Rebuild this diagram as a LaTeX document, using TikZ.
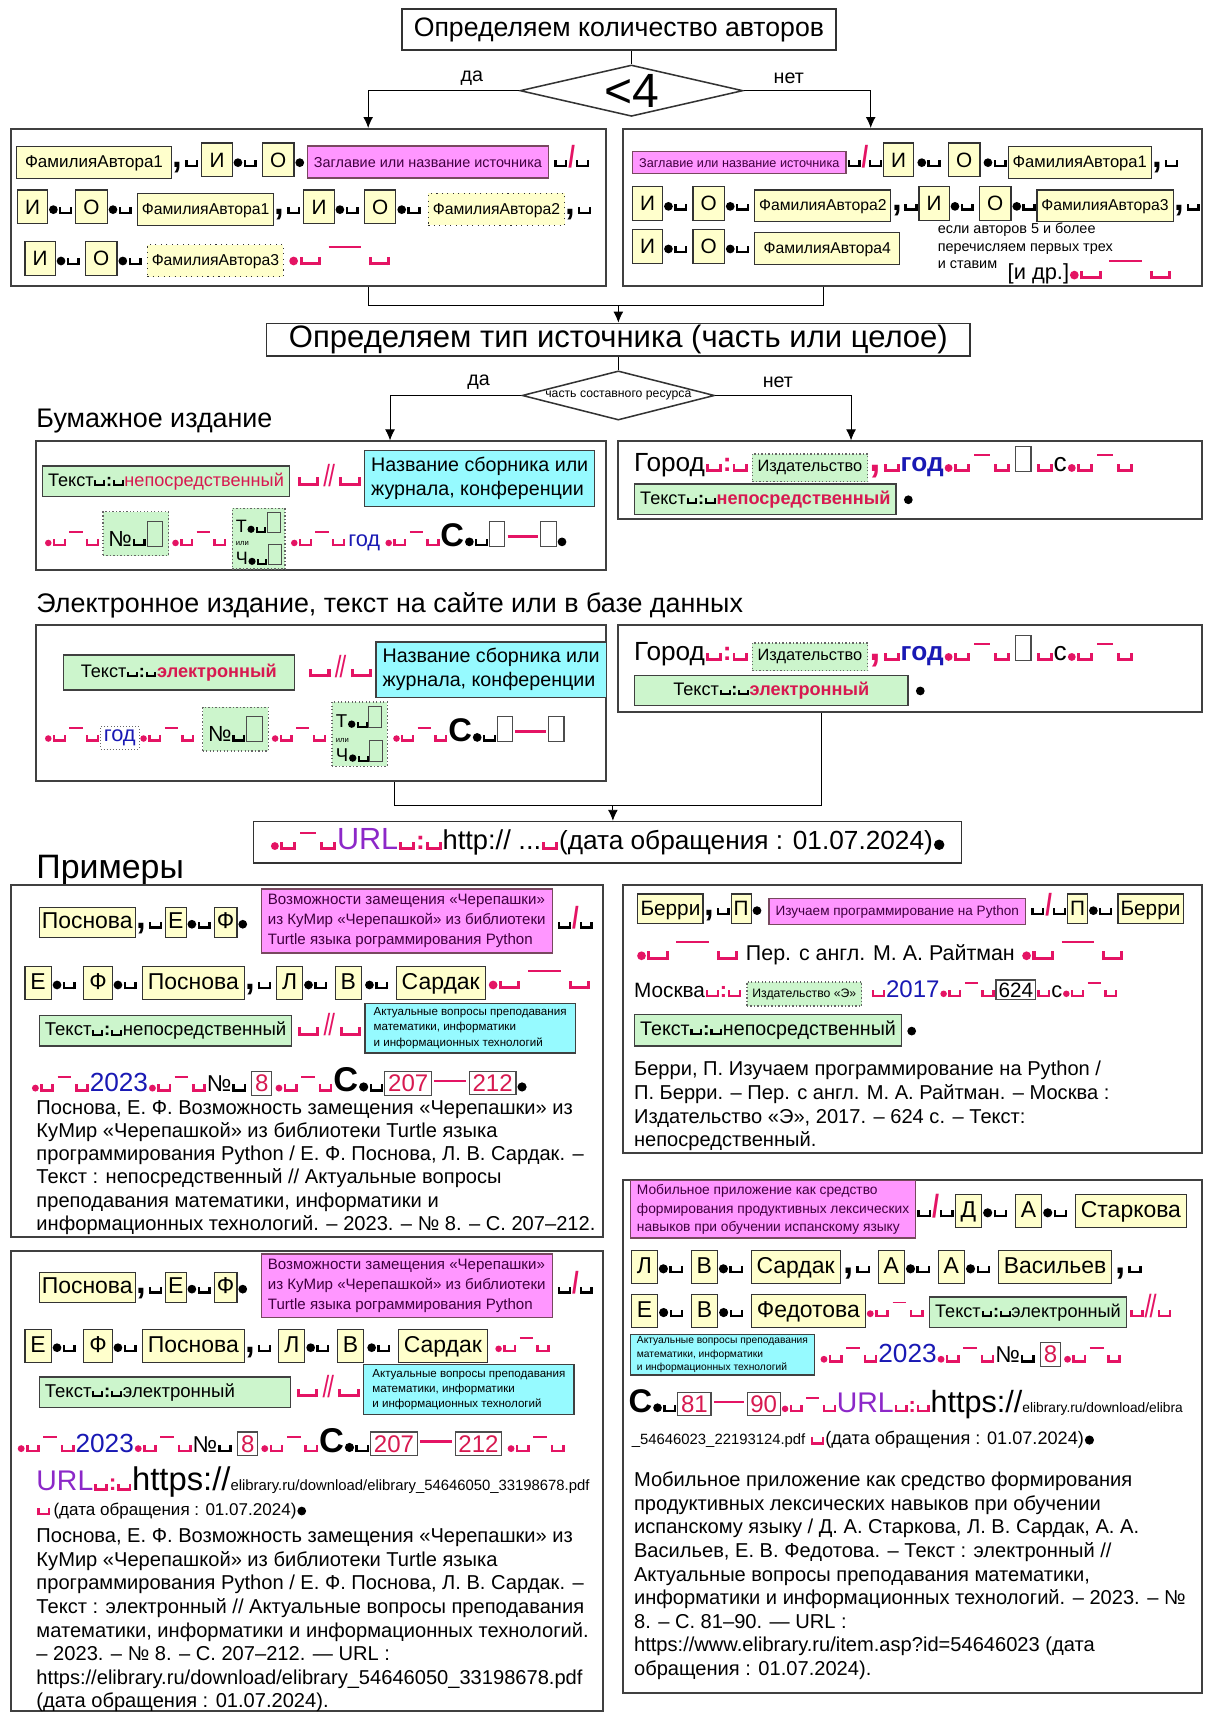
\documentclass[tikz,border=0pt]{standalone}
\usepackage{fontspec}
\setmainfont{Liberation Sans}
\usepackage{graphicx}
\usetikzlibrary{positioning,fit,calc,arrows.meta,shapes.geometric}

\definecolor{pk}{RGB}{228,20,100}
\definecolor{ylw}{RGB}{255,255,204}
\definecolor{mgn}{RGB}{255,150,255}
\definecolor{cyn}{RGB}{150,250,255}
\definecolor{grn}{RGB}{204,245,204}
\definecolor{bl}{RGB}{25,25,180}
\definecolor{urlc}{RGB}{140,40,200}
\definecolor{rd}{RGB}{215,25,80}

\newcommand\sz[2]{\fontsize{#1}{#2}\selectfont}
% template marks
\newcommand\spc[1][black]{{\color{#1}\kern.04em\rule{.11em}{.32em}\rule{.38em}{.11em}\rule{.11em}{.32em}\kern.04em}}
\newcommand\bspc[1][black]{{\color{#1}\kern.05em\rule{.14em}{.4em}\rule{.7em}{.14em}\rule{.14em}{.4em}\kern.05em}}
\newcommand\dt[1][black]{\kern.04em\tikz[baseline=0pt]\fill[#1] (0,.2em) circle (.2em);\kern.02em}
\newcommand\sdt{\kern.04em\tikz[baseline=0pt]\fill[pk] (0,.15em) circle (.15em);\kern.02em}
\newcommand\cm[1][black]{{\color{#1}\kern.03em\scalebox{1.6}{\bfseries,}\kern.08em}}
\newcommand\dsh{{\color{pk}\kern.12em\raisebox{.6em}{\rule{.6em}{.08em}}\kern.12em}}
\newcommand\sep{\sdt\spc[pk]\dsh\spc[pk]}
\newcommand\wsep{\dt[pk]\bspc[pk]{\color{pk}\kern.3em\raisebox{.8em}{\rule{1.5em}{.09em}}\kern.3em}\bspc[pk]}
\newcommand\sla{{\color{pk}\scalebox{1.1}[1.4]{\bfseries/}}}
\newcommand\dsl{{\color{pk}\scalebox{1.1}[1.4]{/\kern-.08em/}}}
\newcommand\dsep{\bspc[pk]\kern.15em\dsl\kern.15em\bspc[pk]}
\newcommand\cln[1][black]{\spc[#1]{\color{#1}\bfseries:}\spc[#1]}
\newcommand\eb{\tikz[baseline=0pt]\draw[black!70,line width=.05em] (0,0) rectangle (.7em,1.15em);}
\newcommand\pbar{{\color{pk}\kern.1em\raisebox{.4em}{\rule{1.4em}{.12em}}\kern.1em}}
\newcommand\pgs[2]{\scalebox{1.5}{\bfseries С}\dt\spc#1\pbar#2}
\newcommand\bx[2]{\tikz[baseline]\node[#1,anchor=base]{#2};}
\newcommand\mb[2]{\tikz[baseline={([yshift=-.35em]current bounding box.center)}]\node[#1]{#2};}

\tikzset{
  frame/.style={draw=black!75, line width=0.9pt, inner sep=0pt},
  ttl/.style={draw=black!80, line width=0.7pt, inner sep=0pt, font=\sz{12.2}{14}},
  dia/.style={draw=black!80, line width=0.7pt, diamond, inner sep=0pt},
  arr/.style={-{Latex[length=5pt,width=4.5pt]}},
  lbl/.style={font=\sz{9}{10}},
  hd/.style={anchor=west, inner sep=0pt, font=\sz{12.3}{14}},
  row/.style={anchor=west, inner sep=0pt, font=\sz{10}{12}},
  txt/.style={anchor=north west, inner sep=0pt, align=left, font=\sz{9.2}{10.8}},
  ybox/.style={draw=black!80, fill=ylw, line width=.5pt, inner xsep=2pt, inner ysep=3pt},
  fam/.style={ybox, font=\sz{7.2}{9}, text height=6pt, text depth=1.6pt, inner ysep=3.5pt},
  famd/.style={fam, dotted},
  ini/.style={ybox, font=\sz{9.5}{11}, text height=7pt, text depth=.5pt, inner xsep=3.5pt, inner ysep=4pt},
  ybs/.style={ybox, font=\sz{10.5}{12}, text height=7.8pt, text depth=2.2pt, inner xsep=1.2pt, inner ysep=1.8pt},
  ybm/.style={ybox, font=\sz{10.5}{12}, text height=7.8pt, text depth=2.2pt, inner xsep=2.5pt, inner ysep=2.5pt},
  mag/.style={draw=black!60!magenta, fill=mgn, line width=.6pt, text=black!50!violet, inner xsep=3pt, inner ysep=4pt},
  mag3/.style={mag, align=left, font=\sz{6.9}{9}, inner ysep=2.5pt},
  cyb/.style={draw=black!75, fill=cyn, line width=.6pt, inner sep=3pt, align=left, font=\sz{9}{11}},
  cys/.style={cyb, font=\sz{5.3}{7}, inner xsep=4pt, inner ysep=2pt},
  gbox/.style={draw=black!75, fill=grn, line width=.6pt, inner xsep=2.5pt, inner ysep=3pt, font=\sz{8.3}{10}},
  gdot/.style={gbox, densely dotted, draw=black!60},
  wdot/.style={draw=black!60, densely dotted, fill=white, inner sep=1.5pt},
  nb/.style={draw=black!70, fill=white, line width=.5pt, text=rd, inner sep=1.5pt, font=\sz{11}{12}},
  wb/.style={draw=black!70, fill=white, line width=.5pt, inner sep=1.2pt},
}

\begin{document}
\begin{tikzpicture}[x=0.5pt,y=-0.5pt]
\path[use as bounding box, fill=white] (0,0) rectangle (1103,1568);

% number of authors
\node[ttl, minimum width=198.5pt, minimum height=19pt] (t1) at (566.5,27) {Определяем количество авторов};
\node[dia, minimum width=102pt, minimum height=23.5pt, aspect=4.3, font=\sz{22}{22}] (d1) at (578,83) {<4};
\node[frame, fit={(10,118) (555,262)}] (fL1) {};
\node[frame, fit={(570,118) (1100,262)}] (fR1) {};
\coordinate (c1) at (337,0);
\coordinate (c2) at (797,0);
\draw (d1.north |- t1.south) -- (d1.north);
\draw[arr] (d1.west) -| (fL1.north -| c1);
\draw[arr] (d1.east) -| (fR1.north -| c2);
\node[lbl] (da1) at (432,72) {да};
\node[lbl] (net1) at (722,72) {нет};

\node[row] (l1a) at (14,147) {\bx{fam,font=\sz{7.8}{9},inner xsep=4pt}{ФамилияАвтора1}\cm\spc\kern1pt\bx{ini}{И}\dt\spc\kern2pt\bx{ini}{О}\dt\kern1pt\bx{mag,font=\sz{6.6}{8},inner ysep=5pt}{Заглавие или название источника}\kern2pt\spc\sla\spc};
\node[row] (l1b) at (15,190) {\bx{ini}{И}\dt\spc\kern1pt\bx{ini}{О}\dt\spc\kern2pt\bx{fam}{ФамилияАвтора1}\cm\spc\kern1pt\bx{ini}{И}\dt\spc\kern2pt\bx{ini}{О}\dt\spc\kern3pt\bx{famd}{ФамилияАвтора2}\cm\spc};
\node[row] (l1c) at (22,237) {\bx{ini}{И}\dt\spc\kern2pt\bx{ini}{О}\dt\spc\kern2pt\bx{famd}{ФамилияАвтора3}\kern2pt\wsep};

\node[row] (r1a) at (578,147) {\bx{mag,font=\sz{5.8}{7},inner ysep=3pt}{Заглавие или название источника}\spc\sla\spc\bx{ini}{И}\kern1pt\dt\spc\kern3pt\bx{ini}{О}\kern1pt\dt\spc\bx{fam,font=\sz{7.6}{9}}{ФамилияАвтора1}\cm\spc};
\node[row] (r1b) at (578,187) {\bx{ini}{И}\dt\spc\kern2pt\bx{ini}{О}\dt\spc\kern2pt\bx{fam}{ФамилияАвтора2}\cm\spc\bx{ini}{И}\dt\spc\kern2pt\bx{ini}{О}\dt\spc\bx{fam}{ФамилияАвтора3}\cm\spc};
\node[row] (r1c) at (578,226) {\bx{ini}{И}\dt\spc\kern2pt\bx{ini}{О}\dt\spc\kern2pt\bx{fam,inner xsep=4pt}{ФамилияАвтора4}};
\node[anchor=north west, align=left, inner sep=0pt, font=\sz{6.6}{8}] (r1n) at (858,204) {если авторов 5 и более\\перечисляем первых трех\\и ставим};
\node[row, font=\sz{10}{12}] (r1d) at (922,249) {[и др.]\wsep};

% type of source
\node[ttl, minimum width=322pt, minimum height=15pt, font=\sz{14.2}{15}] (t2) at (566,311) {Определяем тип источника (часть или целое)};
\coordinate (j1) at (566,280);
\coordinate (c4) at (754,0);
\draw (fL1.south -| c1) |- (j1) -| (fR1.south -| c4);
\draw[arr] (j1) -- (t2.north);
\node[dia, minimum width=88pt, minimum height=22.5pt, aspect=3.9, inner sep=-1pt, font=\sz{5.6}{6}] (d2) at (566,362) {часть составного ресурса};
\draw (t2.south) -- (d2.north);
\node[hd] (hb) at (33,385) {Бумажное издание};
\node[frame, fit={(33,404) (555,522)}] (fL2) {};
\node[frame, fit={(566,404) (1100,475)}] (fR2) {};
\coordinate (c5) at (357,0);
\coordinate (c6) at (779,0);
\draw[arr] (d2.west) -| (fL2.north -| c5);
\draw[arr] (d2.east) -| (fR2.north -| c6);
\node[lbl] (da2) at (438,350) {да};
\node[lbl] (net2) at (712,350) {нет};

\node[row] (l2a) at (38,438) {\bx{gbox}{Текст\cln{\color{rd}непосредственный}}\kern3pt\dsep\kern1pt\mb{cyb}{Название сборника или\\журнала, конференции}};
\node[row] (l2b) at (40,493) {\sep\kern1pt\bx{gdot,font=\sz{10}{12},inner ysep=4pt}{№\spc\eb}\kern1pt\sep\kern2pt\mb{gdot,font=\sz{8.2}{9},align=left,inner sep=1.6pt}{Т\dt\spc\eb\\[-3pt]{\sz{3.5}{4}или}\\[-2pt]Ч\dt\spc\eb}\kern2pt\sep\kern1pt{\color{bl}год}\kern2pt\sep\pgs{\eb}{\eb}\dt};

\node[row, font=\sz{12}{14}] (r2a) at (580,425) {Город\cln[pk]\kern1pt\bx{gdot,font=\sz{7.5}{9}}{Издательство}\cm[pk]\spc[pk]{\color{bl}\bfseries год}\sep\kern2pt{\sz{10}{12}\eb}\kern2pt\spc[pk]с\sep};
\node[row] (r2b) at (580,457) {\bx{gbox}{Текст\cln{\color{rd}\bfseries непосредственный}}\kern3pt\dt};

% electronic
\node[hd] (he) at (33,554) {Электронное издание, текст на сайте или в базе данных};
\node[frame, fit={(33,572) (555,715)}] (fL3) {};
\node[frame, fit={(566,572) (1100,652)}] (fR3) {};

\node[row] (l3a) at (57,613) {\bx{gbox,inner xsep=8pt,inner ysep=4pt}{Текст\cln{\color{rd}\bfseries электронный}}\kern6pt\dsep\kern1pt\mb{cyb}{Название сборника или\\журнала, конференции}};
\node[row] (l3b) at (40,672) {\sep\bx{wdot}{\color{bl}год}\sep\kern3pt\bx{gdot,font=\sz{10}{12},inner ysep=4pt}{№\spc\eb}\kern1pt\sep\kern2pt\mb{gdot,font=\sz{8.5}{9.5},align=left,inner sep=1.8pt}{Т\dt\spc\eb\\[-3pt]{\sz{3.5}{4}или}\\[-2pt]Ч\dt\spc\eb}\kern2pt\sep\pgs{\eb}{\eb}};

\node[row, font=\sz{12}{14}] (r3a) at (580,598) {Город\cln[pk]\kern1pt\bx{gdot,font=\sz{7.5}{9}}{Издательство}\cm[pk]\spc[pk]{\color{bl}\bfseries год}\sep\kern2pt{\sz{10}{12}\eb}\kern2pt\spc[pk]с\sep};
\node[row] (r3b) at (580,632) {\bx{gbox,minimum width=125pt}{Текст\cln{\color{rd}\bfseries электронный}}\kern3pt\dt};

\coordinate (j2) at (561,737);
\coordinate (c7) at (361,0);
\coordinate (c8) at (752,0);
\draw (fL3.south -| c7) |- (j2) -| (fR3.south -| c8);
\node[ttl, minimum width=324pt, minimum height=19pt, font=\sz{12}{14}] (url) at (556,771) {\sep{\color{urlc}\sz{14}{16}URL}\cln[pk]{\sz{12.5}{16}http:// ...}\spc[pk]{\sz{12}{14}(дата обращения : 01.07.2024)}\dt};
\draw[arr] (j2) -- (j2 |- url.north);

% examples
\node[hd, font=\sz{15.5}{17}] (hx) at (33,797) {Примеры};
\node[frame, fit={(10,810) (552,1132)}] (fE1) {};
\node[frame, fit={(570,810) (1100,1055)}] (fE2) {};
\node[frame, fit={(10,1145) (552,1566)}] (fE3) {};
\node[frame, fit={(570,1080) (1100,1550)}] (fE4) {};

\node[row] (e1a) at (35,843) {\bx{ybs}{Поснова}\cm\spc\kern1pt\bx{ybs}{Е}\dt\spc\kern1pt\bx{ybs}{Ф}\dt\kern6pt\mb{mag3}{Возможности замещения «Черепашки»\\из КуМир «Черепашкой» из библиотеки\\Turtle языка рограммирования Python}\kern2pt\spc\sla\spc};
\node[row] (e1b) at (22,900) {\bx{ybm}{Е}\dt\spc\kern3pt\bx{ybm}{Ф}\dt\spc\kern2pt\bx{ybm}{Поснова}\cm\spc\kern2pt\bx{ybm}{Л}\dt\spc\kern3pt\bx{ybm}{В}\kern1pt\dt\spc\kern3pt\bx{ybm}{Сардак}\kern1pt\wsep};
\node[row] (e1c) at (35,941) {\bx{gbox,font=\sz{8.5}{10}}{Текст\cln непосредственный}\kern2pt\dsep\kern1pt\mb{cys}{Актуальные вопросы преподавания\\математики, информатики\\и информационных технологий}};
\node[row, font=\sz{10.5}{12}] (e1d) at (28,990) {\sep{\color{bl}\sz{12}{14}2023}\sep№\spc\kern2pt\bx{nb}{8}\kern1pt\sep\pgs{\bx{nb}{207}}{\bx{nb}{212}}\dt};
\node[txt, font=\sz{9.2}{10.6}] (e1t) at (33,1007) {Поснова, Е. Ф. Возможность замещения «Черепашки» из\\КуМир «Черепашкой» из библиотеки Turtle языка\\программирования Python / Е. Ф. Поснова, Л. В. Сардак. –\\Текст :  непосредственный // Актуальные вопросы\\преподавания математики, информатики и\\информационных технологий. – 2023. – № 8. – С. 207–212.};

\node[row] (e2a) at (583,832) {\bx{ybs,font=\sz{9.5}{11}}{Берри}\cm\spc\bx{ybs,font=\sz{9.5}{11}}{П}\dt\kern3pt\bx{mag,font=\sz{6.2}{8},inner ysep=3pt}{Изучаем программирование на Python}\kern2pt\spc\sla\spc\bx{ybs,font=\sz{9.5}{11}}{П}\dt\spc\kern2pt\bx{ybs,font=\sz{9.5}{11}}{Берри}};
\node[row] (e2b) at (582,872) {\wsep\kern3pt{\sz{9.8}{11}Пер. с англ. М. А. Райтман}\kern3pt\wsep};
\node[row, font=\sz{10}{12}] (e2c) at (580,909) {{\sz{9.5}{11}Москва}\cln[pk]\kern2pt\bx{gdot,font=\sz{5.6}{7}}{Издательство «Э»}\kern4pt\spc[pk]{\color{bl}\sz{11}{12}2017}\sep\bx{wb,font=\sz{9.5}{11}}{624}\spc[pk]с\sep};
\node[row] (e2d) at (580,943) {\bx{gbox,font=\sz{9}{10}}{Текст\cln непосредственный}\kern2pt\dt};
\node[txt] (e2t) at (580,971) {Берри, П. Изучаем программирование на Python /\\П. Берри. – Пер. с англ. М. А. Райтман. – Москва :\\Издательство «Э», 2017. – 624 с. – Текст:\\непосредственный.};

\node[row] (e3a) at (35,1177) {\bx{ybs}{Поснова }\cm\spc\kern1pt\bx{ybs}{Е}\dt\spc\kern1pt\bx{ybs}{Ф}\dt\kern6pt\mb{mag3}{Возможности замещения «Черепашки»\\из КуМир «Черепашкой» из библиотеки\\Turtle языка рограммирования Python}\kern2pt\spc\sla\spc};
\node[row] (e3b) at (22,1232) {\bx{ybm}{Е}\dt\spc\kern3pt\bx{ybm}{Ф}\dt\spc\kern2pt\bx{ybm}{Поснова}\cm\spc\kern3pt\bx{ybm}{Л}\dt\spc\kern3pt\bx{ybm}{В}\kern1pt\dt\spc\kern3pt\bx{ybm}{Сардак}\kern3pt\sep};
\node[row] (e3c) at (35,1272) {\bx{gbox,font=\sz{8.5}{10},text width=110pt}{Текст\cln электронный}\kern2pt\dsep\kern1pt\mb{cys}{Актуальные вопросы преподавания\\математики, информатики\\и информационных технологий}};
\node[row, font=\sz{10.5}{12}] (e3d) at (15,1320) {\sep{\color{bl}\sz{12}{14}2023}\sep№\spc\kern2pt\bx{nb}{8}\kern1pt\sep\pgs{\bx{nb}{207}}{\bx{nb}{212}}\kern2pt\sep};
\node[row, font=\sz{10.5}{12}] (e3e) at (33,1357) {{\color{urlc}\sz{13}{14}URL}\cln[pk]{\sz{15}{16}https://}{\sz{6.8}{8}elibrary.ru/download/elibrary\_54646050\_33198678.pdf}};
\node[row, font=\sz{10}{12}] (e3f) at (33,1383) {\spc[pk]\kern1pt{\sz{7.8}{9}(дата обращения : 01.07.2024)}\dt};
\node[txt] (e3t) at (33,1399) {Поснова, Е. Ф. Возможность замещения «Черепашки» из\\КуМир «Черепашкой» из библиотеки Turtle языка\\программирования Python / Е. Ф. Поснова, Л. В. Сардак. –\\Текст :  электронный // Актуальные вопросы преподавания\\математики, информатики и информационных технологий.\\– 2023. – № 8. – С. 207–212. — URL :\\https://elibrary.ru/download/elibrary\_54646050\_33198678.pdf\\(дата обращения : 01.07.2024).};

\node[row, font=\sz{10.5}{12}] (e4a) at (576,1107) {\mb{mag3,font=\sz{6.3}{8.3},inner ysep=1.8pt}{Мобильное приложение как средство\\формирования продуктивных лексических\\навыков при обучении испанскому языку}\spc\sla\spc\bx{ybm}{Д}\dt\spc\kern3pt\bx{ybm}{А}\dt\spc\kern3pt\bx{ybm}{Старкова}};
\node[row, font=\sz{10.5}{12}] (e4b) at (577,1160) {\bx{ybm}{Л}\dt\spc\kern3pt\bx{ybm}{В}\dt\spc\kern3pt\bx{ybm}{Сардак}\kern1pt\cm\spc\kern3pt\bx{ybm}{А}\dt\spc\kern3pt\bx{ybm}{А}\dt\spc\kern3pt\bx{ybm}{Васильев}\kern1pt\cm\spc};
\node[row, font=\sz{10.5}{12}] (e4c) at (577,1200) {\bx{ybm}{Е}\dt\spc\kern3pt\bx{ybm}{В}\dt\spc\kern3pt\bx{ybm}{Федотова}\sep\kern2pt\bx{gbox}{Текст\cln электронный}\kern1pt\spc[pk]\dsl\spc[pk]};
\node[row, font=\sz{10.5}{12}] (e4d) at (576,1240) {\mb{cys,font=\sz{4.7}{6.2},inner ysep=1pt,inner xsep=3pt}{Актуальные вопросы преподавания\\математики, информатики\\и информационных технологий}\kern2pt\sep{\color{bl}\sz{12}{14}2023}\sep№\spc\kern2pt\bx{nb}{8}\kern1pt\sep};
\node[row, font=\sz{10}{12}] (e4e) at (575,1285) {\pgs{\bx{nb}{81}}{\bx{nb}{90}}\sep{\color{urlc}\sz{13}{16}URL}\cln[pk]{\sz{14}{16}https://}{\sz{6.3}{8}elibrary.ru/download/elibra}};
\node[row, font=\sz{10.5}{12}] (e4f) at (578,1318) {{\sz{6.8}{8}\_54646023\_22193124.pdf}\kern2pt\spc[pk]{\sz{8.3}{10}(дата обращения : 01.07.2024)}\dt};
\node[txt] (e4t) at (580,1347) {Мобильное приложение как средство формирования\\продуктивных лексических навыков при обучении\\испанскому языку / Д. А. Старкова, Л. В. Сардак, А. А.\\Васильев, Е. В. Федотова.  – Текст : электронный //\\Актуальные вопросы преподавания математики,\\информатики и информационных технологий. – 2023. – №\\8. – С. 81–90. — URL :\\https://www.elibrary.ru/item.asp?id=54646023 (дата\\обращения : 01.07.2024).};
\end{tikzpicture}
\end{document}
